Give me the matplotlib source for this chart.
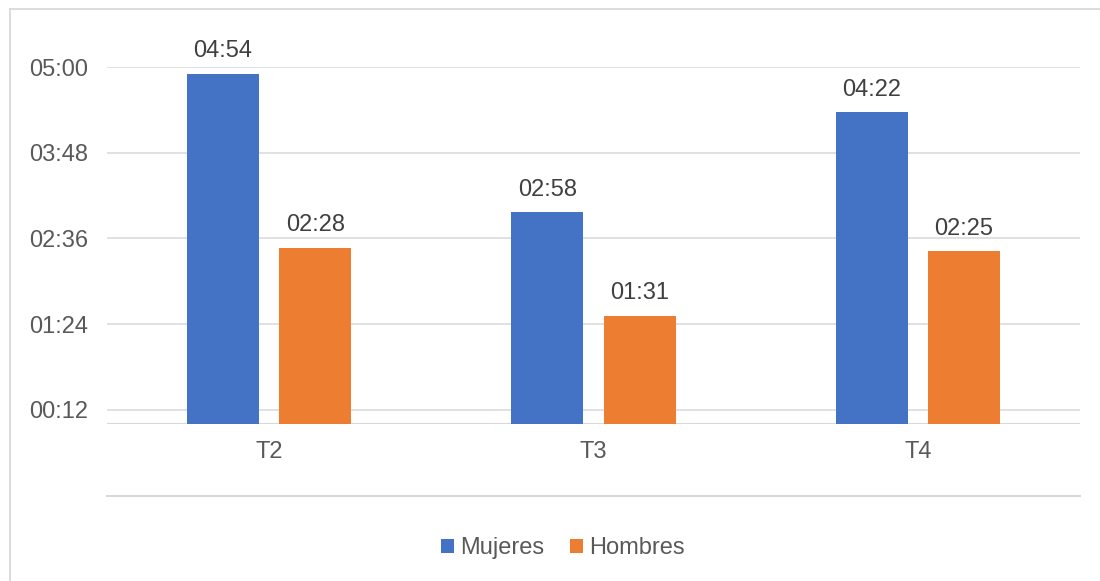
import matplotlib.pyplot as plt
from matplotlib.ticker import FuncFormatter
from matplotlib.lines import Line2D
import numpy as np

plt.rcParams['font.family'] = ['Liberation Sans', 'DejaVu Sans']

categories = ['T2', 'T3', 'T4']
mujeres = [294, 178, 262]   # seconds
hombres = [148, 91, 145]
yticks = [12, 84, 156, 228, 300]

blue = '#4472C4'
orange = '#ED7D31'
grid = '#D9D9D9'
txt = '#595959'
fs = 17


def mmss(v, pos=None):
    v = int(round(v))
    return '{:02d}:{:02d}'.format(v // 60, v % 60)


fig = plt.figure(figsize=(11, 5.81), dpi=100)
ax = fig.add_axes([107 / 1100, 1 - 424 / 581, (1080 - 107) / 1100, (424 - 67) / 581])

x = np.arange(len(categories))
w = 0.222
off = 0.142
b1 = ax.bar(x - off, mujeres, w, color=blue, label='Mujeres', zorder=3)
b2 = ax.bar(x + off, hombres, w, color=orange, label='Hombres', zorder=3)

for bars in (b1, b2):
    for r in bars:
        ax.text(r.get_x() + r.get_width() / 2, r.get_height() + 14, mmss(r.get_height()),
                ha='center', va='baseline', fontsize=fs, color='#404040', clip_on=False)

ax.set_xlim(-0.5, 2.5)
ax.set_ylim(0, 300)
ax.set_yticks(yticks)
ax.yaxis.set_major_formatter(FuncFormatter(mmss))
ax.set_xticks(x)
ax.set_xticklabels(categories)
ax.tick_params(axis='both', length=0, labelsize=fs, labelcolor=txt)
ax.tick_params(axis='y', pad=13.5)
ax.tick_params(axis='x', pad=12)
ax.grid(axis='y', color=grid, linewidth=1.1, zorder=0)
for s in ax.spines.values():
    s.set_visible(False)
ax.axhline(0, color=grid, linewidth=1.5, zorder=2)
ax.axhline(-60.5, color=grid, linewidth=1.5, clip_on=False)

ax.legend(loc='center', bbox_to_anchor=(563 / 1100, 1 - 548 / 581), bbox_transform=fig.transFigure,
          ncol=2, frameon=False, fontsize=fs, handlelength=0.55, handleheight=0.55,
          handletextpad=0.25, columnspacing=1.1, labelcolor=txt)

# chart area border (only top and left visible in the crop)
fig.lines.append(Line2D([9.5 / 1100, 9.5 / 1100], [0, 1 - 9 / 581], transform=fig.transFigure,
                        color=grid, linewidth=1.3))
fig.lines.append(Line2D([9.5 / 1100, 1], [1 - 9 / 581, 1 - 9 / 581], transform=fig.transFigure,
                        color=grid, linewidth=1.3))

fig.savefig('out.png', dpi=100)
